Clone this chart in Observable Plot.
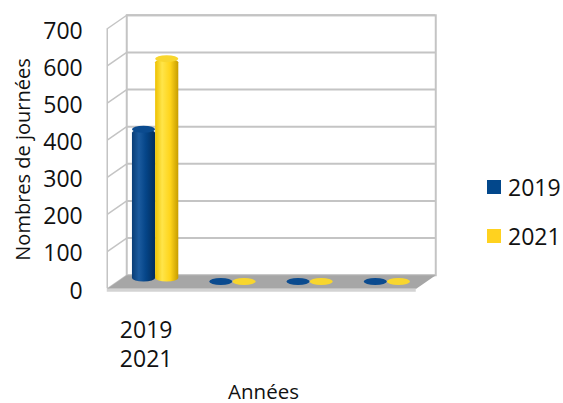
<!DOCTYPE html>
<html>
<head>
<meta charset="utf-8">
<script src="https://cdn.jsdelivr.net/npm/d3@7"></script>
<script src="https://cdn.jsdelivr.net/npm/@observablehq/plot@0.6"></script>
<style>
  html, body { margin: 0; padding: 0; background: #fff; }
  #wrap { position: relative; width: 563px; height: 403px; overflow: hidden; font-family: "Open Sans", sans-serif; color: #111; }
  #legend { position: absolute; left: 487px; top: 171px; font-size: 23px; line-height: 32px; }
  #legend .row { display: flex; align-items: center; height: 32px; margin-bottom: 17px; }
  #legend .sw { width: 14px; height: 14px; margin-right: 7px; display: inline-block; }
</style>
</head>
<body>
<div id="wrap"></div>
<script>
// ---- data ----
const categories = ["2019\n2021", "", "", ""];
const seriesNames = ["2019", "2021"];
const values2019 = [410, 0, 0, 0];
const values2021 = [600, 0, 0, 0];
const yTicks = [0, 100, 200, 300, 400, 500, 600, 700];
const yTitle = "Nombres de journées";
const xTitle = "Années";

// ---- styles ----
const seriesColors = ["#02478b", "#ffd21f"];
const capColors = ["#0b4b8f", "#f8d62e"];
const gradStops = [
  [["0%", "#0a3e76"], ["30%", "#1b5b9f"], ["60%", "#054588"], ["100%", "#022d5c"]],
  [["0%", "#eec100"], ["30%", "#ffe54a"], ["65%", "#ffd41a"], ["100%", "#c79d00"]]
];

const W = 563, H = 403;
const mL = 116.5, mR = 137.5, mT = 21.5, mB = 121.5;
const yMax = 700;
const nCat = categories.length;
// half depth offset (px) between mid plane and front/back planes
const hx = 9.75, hy = 6.75;
const hxU = hx * nCat / (W - mL - mR);
const hyU = hy * yMax / (H - mT - mB);

const seriesValues = [values2019, values2021];
const rows = [];
seriesValues.forEach((vals, s) => vals.forEach((v, i) => rows.push({cat: i, s, value: v})));

const floorPts = [
  {x: -hxU, y: -hyU}, {x: nCat - hxU, y: -hyU},
  {x: nCat + hxU, y: hyU}, {x: hxU, y: hyU}
];

const grid = "#c4c4c4";
const barMarks = [];
seriesNames.forEach((name, s) => {
  const data = rows.filter(r => r.s === s);
  const x1 = r => r.cat + 0.2 + 0.3 * s;
  const x2 = r => r.cat + 0.5 + 0.3 * s;
  barMarks.push(Plot.rectY(data, {x1, x2, y1: () => 0, y2: "value", fill: `url(#cyl${s})`, rx: 11.5, ry: 3.5}));
  barMarks.push(Plot.rectY(data, {x1, x2, y1: "value", y2: "value", insetTop: -3.5, insetBottom: -3.5, fill: capColors[s], rx: 11.5, ry: 3.5}));
});

const plot = Plot.plot({
  width: W, height: H,
  marginLeft: mL, marginRight: mR, marginTop: mT, marginBottom: mB,
  x: {domain: [0, nCat], axis: null},
  y: {domain: [0, yMax], axis: null},
  style: {fontFamily: "Open Sans", background: "white", overflow: "visible", color: "#111"},
  marks: [
    // back wall
    Plot.ruleY(yTicks, {dx: hx, dy: -hy, stroke: grid, strokeWidth: 2}),
    Plot.frame({dx: hx, dy: -hy, stroke: grid, strokeWidth: 2}),
    // side wall
    Plot.link(yTicks, {x1: () => -hxU, y1: d => d - hyU, x2: () => hxU, y2: d => d + hyU, stroke: grid, strokeWidth: 1.5}),
    Plot.ruleX([0], {y1: 0, y2: yMax, dx: -hx, dy: hy, stroke: grid, strokeWidth: 1.5}),
    // floor
    Plot.line(floorPts, {x: "x", y: "y", fill: "#a6a6a6", stroke: "none"}),
    Plot.ruleY([0], {dx: -hx, dy: hy + 1.5, stroke: "#d3d3d3", strokeWidth: 3}),
    // bars
    ...barMarks,
    // y tick labels
    Plot.text(yTicks, {x: () => 0, y: d => d, text: d => String(d), textAnchor: "end", dx: -hx - 24.5, dy: hy + 2.5, fontSize: 23, fill: "#111"}),
    // category labels
    Plot.text(categories, {x: (d, i) => i + 0.5, y: () => 0, text: d => d, dx: -9.5, dy: 61.3, lineHeight: 1.27, fontSize: 23, fill: "#111"}),
    // axis titles
    Plot.text([yTitle], {frameAnchor: "left", textAnchor: "middle", text: d => d, rotate: -90, dx: -93, dy: 7.5, fontSize: 20, fill: "#111"}),
    Plot.text([xTitle], {frameAnchor: "bottom", textAnchor: "middle", text: d => d, dx: -8, dy: 116.5, fontSize: 20.5, fill: "#111"})
  ]
});

// cylinder gradients
const defs = d3.select(plot).insert("defs", ":first-child");
gradStops.forEach((stops, s) => {
  const g = defs.append("linearGradient").attr("id", `cyl${s}`).attr("x1", 0).attr("x2", 1).attr("y1", 0).attr("y2", 0);
  stops.forEach(([o, c]) => g.append("stop").attr("offset", o).attr("stop-color", c));
});

const wrap = document.getElementById("wrap");
wrap.appendChild(plot);

// legend
const legend = document.createElement("div");
legend.id = "legend";
seriesNames.forEach((name, s) => {
  const row = document.createElement("div");
  row.className = "row";
  const sw = document.createElement("span");
  sw.className = "sw";
  sw.style.background = seriesColors[s];
  const t = document.createElement("span");
  t.textContent = name;
  row.appendChild(sw);
  row.appendChild(t);
  legend.appendChild(row);
});
wrap.appendChild(legend);
</script>
</body>
</html>
